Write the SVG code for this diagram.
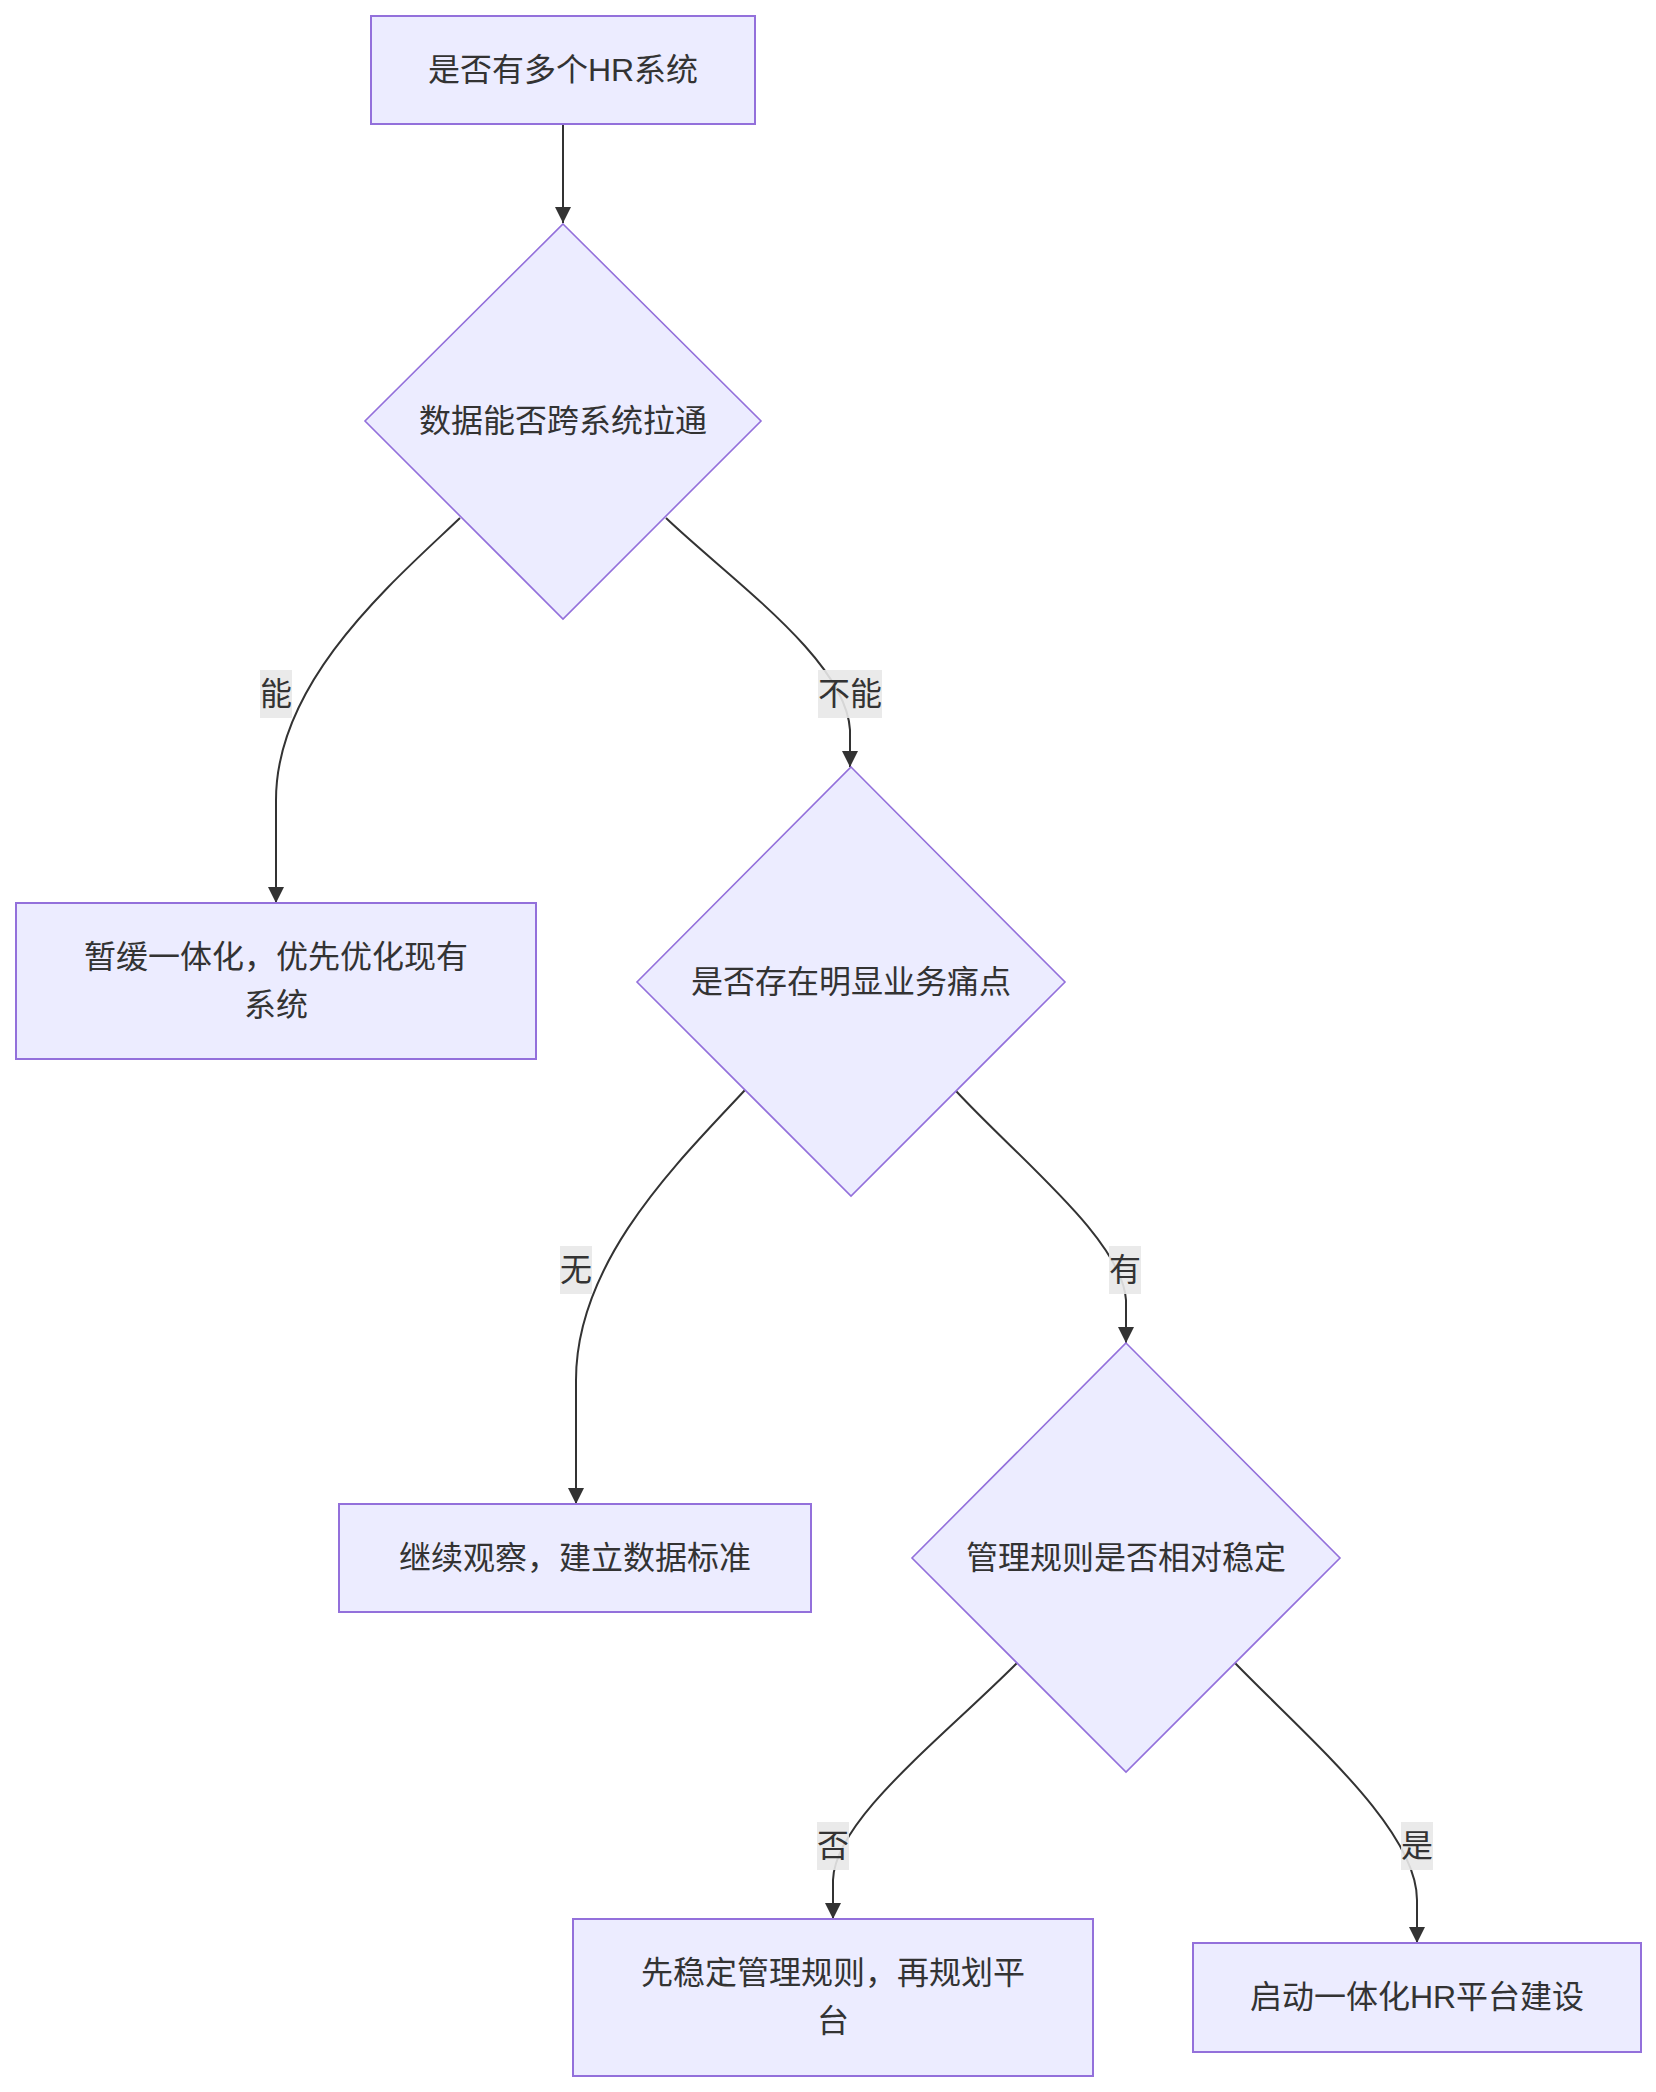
<svg xmlns="http://www.w3.org/2000/svg" width="1656" height="2092" viewBox="0 0 1656 2092">
<style>
.node rect,.node polygon{fill:#ECECFF;stroke:#9370DB;}
.node rect{stroke-width:2;}
.node polygon{stroke-width:1.6;}
text{font-family:"Liberation Sans","Noto Sans CJK SC",sans-serif;font-size:32px;fill:#333333;text-anchor:middle;dominant-baseline:central;}
.edge{fill:none;stroke:#333333;stroke-width:2;marker-end:url(#arrow);}
.lbl rect{fill:#e8e8e8;opacity:0.9;}
</style>
<defs>
<marker id="arrow" viewBox="0 0 10 10" refX="10" refY="5" markerUnits="userSpaceOnUse" markerWidth="16" markerHeight="16" orient="auto">
<path d="M0,0 L10,5 L0,10 z" fill="#333333"/>
</marker>
</defs>
<rect width="1656" height="2092" fill="#ffffff"/>
<g id="connectors">
<path class="edge" d="M563,124 L563,223"/>
<path class="edge" d="M460,518 C395,580 276,680 276,800 L276,903"/>
<path class="edge" d="M666,518 C731,580 846,660 850,730 L850,767"/>
<path class="edge" d="M745,1090 C680,1160 576,1260 576,1380 L576,1504"/>
<path class="edge" d="M956,1091 C1020,1160 1122,1240 1126,1300 L1126,1343"/>
<path class="edge" d="M1017,1663 C940,1740 835,1820 833,1880 L833,1919"/>
<path class="edge" d="M1235,1663 C1310,1740 1417,1830 1417,1900 L1417,1943"/>
</g>
<g id="edge-labels">
<g class="lbl" id="lbl-neng"><rect x="260" y="670" width="32" height="48"/><text x="276" y="694">能</text></g>
<g class="lbl" id="lbl-buneng"><rect x="818" y="670" width="64" height="48"/><text x="850" y="694">不能</text></g>
<g class="lbl" id="lbl-wu"><rect x="560" y="1246" width="32" height="48"/><text x="576" y="1270">无</text></g>
<g class="lbl" id="lbl-you"><rect x="1109" y="1246" width="32" height="48"/><text x="1125" y="1270">有</text></g>
<g class="lbl" id="lbl-fou"><rect x="817" y="1822" width="32" height="48"/><text x="833" y="1846">否</text></g>
<g class="lbl" id="lbl-shi"><rect x="1401" y="1822" width="32" height="48"/><text x="1417" y="1846">是</text></g>
</g>
<g class="node" id="A"><rect x="371" y="16" width="384" height="108"/><text x="563" y="70">是否有多个HR系统</text></g>
<g class="node" id="B"><polygon points="563,224 761,421 563,619 365,421"/><text x="563" y="421">数据能否跨系统拉通</text></g>
<g class="node" id="C"><rect x="16" y="903" width="520" height="156"/><text x="276" y="957">暂缓一体化，优先优化现有</text><text x="276" y="1005">系统</text></g>
<g class="node" id="D"><polygon points="851,767 1065,982 851,1196 637,982"/><text x="851" y="982">是否存在明显业务痛点</text></g>
<g class="node" id="E"><rect x="339" y="1504" width="472" height="108"/><text x="575" y="1558">继续观察，建立数据标准</text></g>
<g class="node" id="F"><polygon points="1126,1343 1340,1558 1126,1772 912,1558"/><text x="1126" y="1558">管理规则是否相对稳定</text></g>
<g class="node" id="G"><rect x="573" y="1919" width="520" height="157"/><text x="833" y="1973">先稳定管理规则，再规划平</text><text x="833" y="2021">台</text></g>
<g class="node" id="H"><rect x="1193" y="1943" width="448" height="109"/><text x="1417" y="1997">启动一体化HR平台建设</text></g>
</svg>
